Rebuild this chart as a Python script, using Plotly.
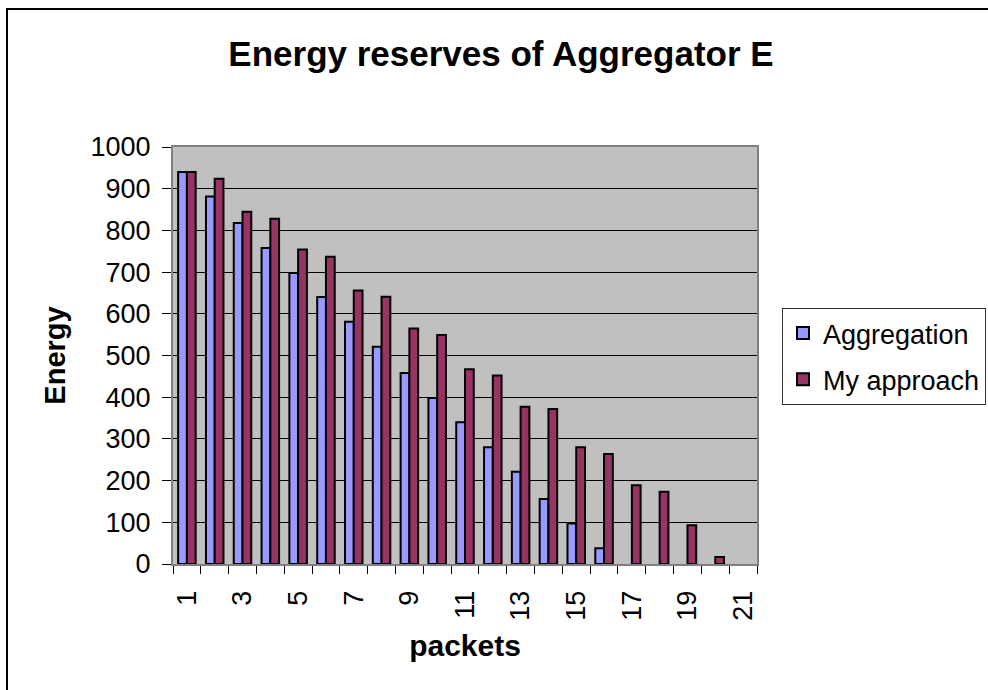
import plotly.graph_objects as go

# Data: energy remaining after each packet
packets = list(range(1, 22))
aggregation = [940, 881, 818, 758, 698, 640, 581, 521, 458, 398, 340, 280,
               221, 156, 97, 38, None, None, None, None, None]
my_approach = [940, 924, 845, 828, 754, 737, 656, 641, 565, 549, 467, 452,
               377, 372, 280, 264, 189, 173, 93, 17, None]
x_tick_labels = [str(v) for v in range(1, 22, 2)]

FONT = "Arial, Liberation Sans, sans-serif"
W, H = 988, 690
L, R, T, B = 173, 231, 147, 126
PW, PH = W - L - R, H - T - B

fig = go.Figure()
fig.add_trace(go.Bar(
    x=packets, y=aggregation, name="Aggregation",
    marker=dict(color="#9999FF", line=dict(color="black", width=2)),
    legendgroup="a",
))
fig.add_trace(go.Bar(
    x=packets, y=my_approach, name="My approach",
    marker=dict(color="#993366", line=dict(color="black", width=2)),
    legendgroup="b",
))

def px_x(px):
    return (px - L) / PW

def px_y(py):
    return (H - B - py) / PH

fig.update_layout(
    width=W, height=H,
    margin=dict(l=L, r=R, t=T, b=B, autoexpand=False),
    paper_bgcolor="white",
    plot_bgcolor="#C0C0C0",
    barmode="group", bargap=0.37, bargroupgap=0.0,
    font=dict(family=FONT, size=27, color="black"),
    title=dict(
        text="<b>Energy reserves of Aggregator E</b>",
        font=dict(family=FONT, size=35, color="black"),
        xref="container", yref="container",
        x=501 / W, y=1 - 54 / H, xanchor="center", yanchor="middle",
    ),
    showlegend=True,
    legend=dict(
        x=px_x(782), y=px_y(308), xanchor="left", yanchor="top",
        bordercolor="#333333", borderwidth=1, bgcolor="white",
        font=dict(family=FONT, size=27, color="black"),
        tracegroupgap=8, traceorder="grouped",
    ),
    xaxis=dict(
        range=[0.5, 21.5],
        tickmode="array",
        tickvals=list(range(1, 22, 2)),
        ticktext=x_tick_labels,
        tickangle=-90,
        ticks="",
        ticklabelstandoff=14,
        minor=dict(ticks="outside", tick0=0.5, dtick=1, ticklen=8,
                   tickcolor="black", tickwidth=1, showgrid=False),
        showgrid=False,
        showline=True, linecolor="#808080", linewidth=2, mirror=True,
        zeroline=False,
        tickfont=dict(family=FONT, size=27, color="black"),
        title=dict(text="<b>packets</b>", standoff=15,
                   font=dict(family=FONT, size=30, color="black")),
    ),
    yaxis=dict(
        range=[0, 1000], dtick=100,
        ticks="outside", ticklen=9, tickcolor="black", tickwidth=1,
        ticklabelstandoff=6,
        showgrid=True, gridcolor="black", gridwidth=1,
        showline=True, linecolor="#808080", linewidth=2, mirror=True,
        zeroline=False,
        tickfont=dict(family=FONT, size=27, color="black"),
        title=dict(text="<b>Energy</b>", standoff=16,
                   font=dict(family=FONT, size=29, color="black")),
    ),
    shapes=[dict(
        type="rect", xref="paper", yref="paper",
        x0=px_x(7), x1=px_x(1010), y0=px_y(710), y1=px_y(9),
        line=dict(color="black", width=2), fillcolor="rgba(0,0,0,0)",
        layer="below",
    )],
)

fig.write_html("out.html")
